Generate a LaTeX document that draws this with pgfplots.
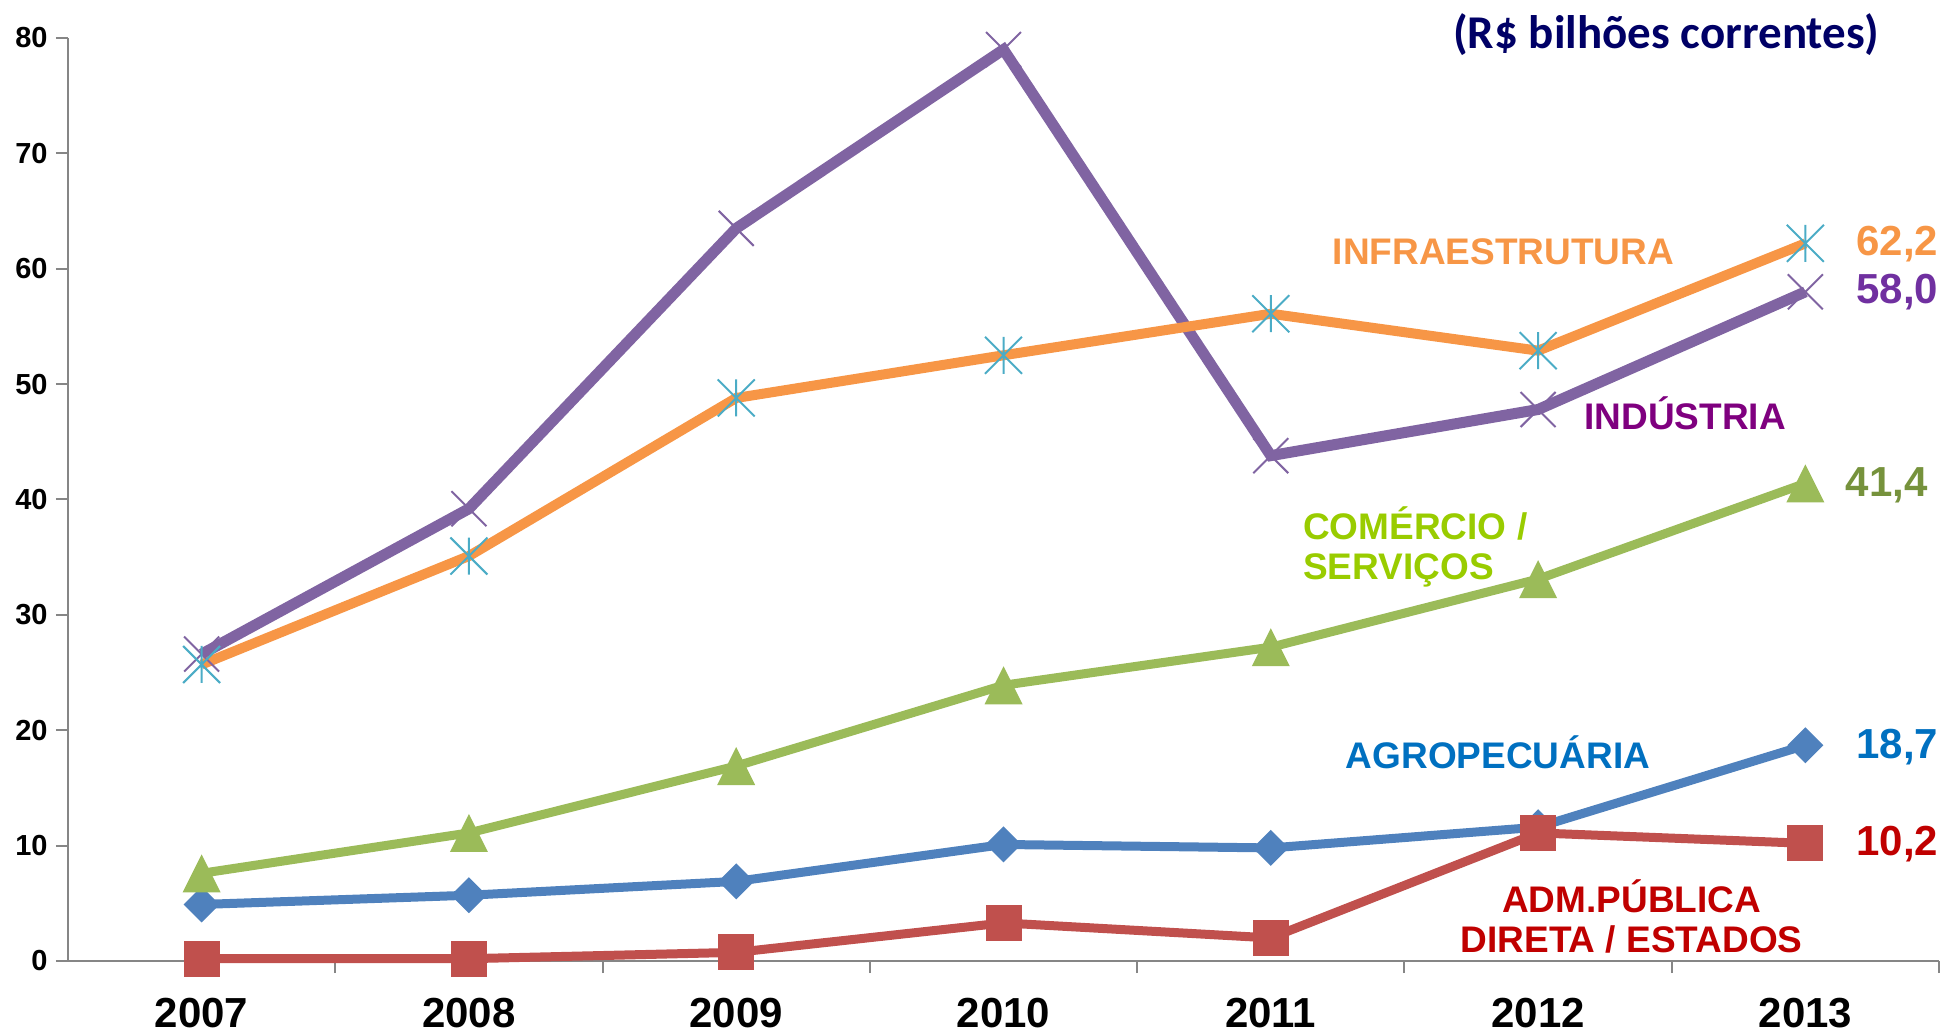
\documentclass[border=0pt]{standalone}
\usepackage{pgfplots}
\pgfplotsset{compat=1.18}
\usepackage{fontspec}
\setmainfont{Liberation Sans}
\newfontfamily\calib{Carlito}

\definecolor{axgray}{HTML}{868686}
\definecolor{cpurple}{HTML}{8064A2}
\definecolor{corange}{HTML}{F79646}
\definecolor{cgreen}{HTML}{9BBB59}
\definecolor{cblue}{HTML}{4F81BD}
\definecolor{cred}{HTML}{C0504D}
\definecolor{ccyan}{HTML}{4BACC6}
\definecolor{tnavy}{HTML}{000066}
\definecolor{tpurple}{HTML}{7030A0}
\definecolor{tmagenta}{HTML}{7F007F}
\definecolor{tlime}{HTML}{99CC00}
\definecolor{tolive}{HTML}{76923C}
\definecolor{tblue}{HTML}{0070C0}
\definecolor{tred}{HTML}{C00000}

% marks sized like the Excel ones (half width = mark size)
\pgfdeclareplotmark{xx}{%
  \pgfpathmoveto{\pgfqpoint{-\pgfplotmarksize}{-\pgfplotmarksize}}%
  \pgfpathlineto{\pgfqpoint{\pgfplotmarksize}{\pgfplotmarksize}}%
  \pgfpathmoveto{\pgfqpoint{-\pgfplotmarksize}{\pgfplotmarksize}}%
  \pgfpathlineto{\pgfqpoint{\pgfplotmarksize}{-\pgfplotmarksize}}%
  \pgfusepathqstroke}
\pgfdeclareplotmark{xstar}{%
  \pgfpathmoveto{\pgfqpoint{-\pgfplotmarksize}{-\pgfplotmarksize}}%
  \pgfpathlineto{\pgfqpoint{\pgfplotmarksize}{\pgfplotmarksize}}%
  \pgfpathmoveto{\pgfqpoint{-\pgfplotmarksize}{\pgfplotmarksize}}%
  \pgfpathlineto{\pgfqpoint{\pgfplotmarksize}{-\pgfplotmarksize}}%
  \pgfpathmoveto{\pgfqpoint{0pt}{-\pgfplotmarksize}}%
  \pgfpathlineto{\pgfqpoint{0pt}{\pgfplotmarksize}}%
  \pgfusepathqstroke}
\pgfdeclareplotmark{dmd}{%
  \pgfpathmoveto{\pgfqpoint{0pt}{\pgfplotmarksize}}%
  \pgfpathlineto{\pgfqpoint{\pgfplotmarksize}{0pt}}%
  \pgfpathlineto{\pgfqpoint{0pt}{-\pgfplotmarksize}}%
  \pgfpathlineto{\pgfqpoint{-\pgfplotmarksize}{0pt}}%
  \pgfpathclose\pgfusepathqfill}
\pgfdeclareplotmark{tri}{%
  \pgfpathmoveto{\pgfqpoint{0pt}{\pgfplotmarksize}}%
  \pgfpathlineto{\pgfqpoint{\pgfplotmarksize}{-\pgfplotmarksize}}%
  \pgfpathlineto{\pgfqpoint{-\pgfplotmarksize}{-\pgfplotmarksize}}%
  \pgfpathclose\pgfusepathqfill}
\pgfdeclareplotmark{sq}{%
  \pgfpathrectangle{\pgfqpoint{-\pgfplotmarksize}{-\pgfplotmarksize}}{\pgfqpoint{2\pgfplotmarksize}{2\pgfplotmarksize}}%
  \pgfusepathqfill}

\pgfplotstableread{
x agro adm com ind inf
0 4.9  0.2  7.6  26.6 25.7
1 5.7  0.2  11.1 39.2 35.1
2 6.9  0.75 16.9 63.5 48.8
3 10.1 3.3  23.9 79.0 52.5
4 9.8  2.0  27.2 43.8 56.1
5 11.6 11.1 33.1 47.8 52.9
6 18.7 10.2 41.4 58.0 62.2
}\invest

\begin{document}
\begin{tikzpicture}
\begin{axis}[
  scale only axis,
  width=935.5pt, height=461.5pt,
  xmin=-0.5, xmax=6.5, ymin=0, ymax=80,
  clip=false,
  axis x line*=bottom, axis y line*=left,
  axis line style={draw=axgray, line width=1pt},
  xtick={0,...,6},
  xticklabels={2007,2008,2009,2010,2011,2012,2013},
  minor xtick={0.5,1.5,2.5,3.5,4.5,5.5,6.5},
  ytick={0,10,...,80},
  tick align=outside,
  tick style={draw=axgray, line width=1pt},
  major tick length=6pt, minor tick length=6pt,
  major x tick style={draw=none},
  xticklabel style={font=\bfseries\fontsize{21}{21}\selectfont, anchor=base, yshift=-27pt},
  yticklabel style={font=\bfseries\fontsize{14.5}{14.5}\selectfont, anchor=east, inner sep=0pt, xshift=-4pt,
    /pgf/number format/assume math mode=true},
]
\coordinate (O) at (rel axis cs:0,0);

\addplot[cblue, line width=4.5pt, mark=dmd, mark size=9pt, mark options={fill=cblue}] table[x=x, y=agro]{\invest};
\addplot[cred, line width=4.5pt, mark=sq, mark size=9pt, mark options={fill=cred}] table[x=x, y=adm]{\invest};
\addplot[cgreen, line width=4.5pt, mark=tri, mark size=9.5pt, mark options={fill=cgreen}] table[x=x, y=com]{\invest};
\addplot[cpurple, line width=5.5pt, mark=xx, mark size=8.75pt, mark options={draw=cpurple, line width=1pt}] table[x=x, y=ind]{\invest};
\addplot[corange, line width=5pt, mark=xstar, mark size=9.25pt, mark options={draw=ccyan, line width=1pt}] table[x=x, y=inf]{\invest};

\node[tnavy, font=\calib\bfseries\fontsize{23.5}{23.5}\selectfont] at (axis cs:5.48,80.3) {(R\$ bilhões correntes)};

\node[corange, font=\bfseries\fontsize{18.5}{18.5}\selectfont] at (axis cs:4.87,61.5) {INFRAESTRUTURA};
\node[tmagenta, font=\bfseries\fontsize{18.5}{18.5}\selectfont] at (axis cs:5.55,47.5) {INDÚSTRIA};
\node[tlime, font=\bfseries\fontsize{18.5}{20}\selectfont, align=left, anchor=west, inner sep=0pt] at (axis cs:4.12,35.9) {COMÉRCIO /\\SERVIÇOS};
\node[tblue, font=\bfseries\fontsize{18.5}{18.5}\selectfont] at (axis cs:4.85,18.1) {AGROPECUÁRIA};
\node[tred, font=\bfseries\fontsize{18.5}{20}\selectfont, align=center, inner sep=0pt] at (axis cs:5.35,3.9) {ADM.PÚBLICA\\DIRETA / ESTADOS};

\node[corange, font=\bfseries\fontsize{21}{21}\selectfont, anchor=west, inner sep=0pt] at (axis cs:6.19,62.1) {62,2};
\node[tpurple, font=\bfseries\fontsize{21}{21}\selectfont, anchor=west, inner sep=0pt] at (axis cs:6.19,58.0) {58,0};
\node[tolive, font=\bfseries\fontsize{21}{21}\selectfont, anchor=west, inner sep=0pt] at (axis cs:6.15,41.2) {41,4};
\node[tblue, font=\bfseries\fontsize{21}{21}\selectfont, anchor=west, inner sep=0pt] at (axis cs:6.19,18.5) {18,7};
\node[tred, font=\bfseries\fontsize{21}{21}\selectfont, anchor=west, inner sep=0pt] at (axis cs:6.19,10.1) {10,2};
\end{axis}
\pgfresetboundingbox
\path[use as bounding box] (O) ++(-34pt,-36.5pt) rectangle ++(971.5pt,517pt);
\end{tikzpicture}
\end{document}
